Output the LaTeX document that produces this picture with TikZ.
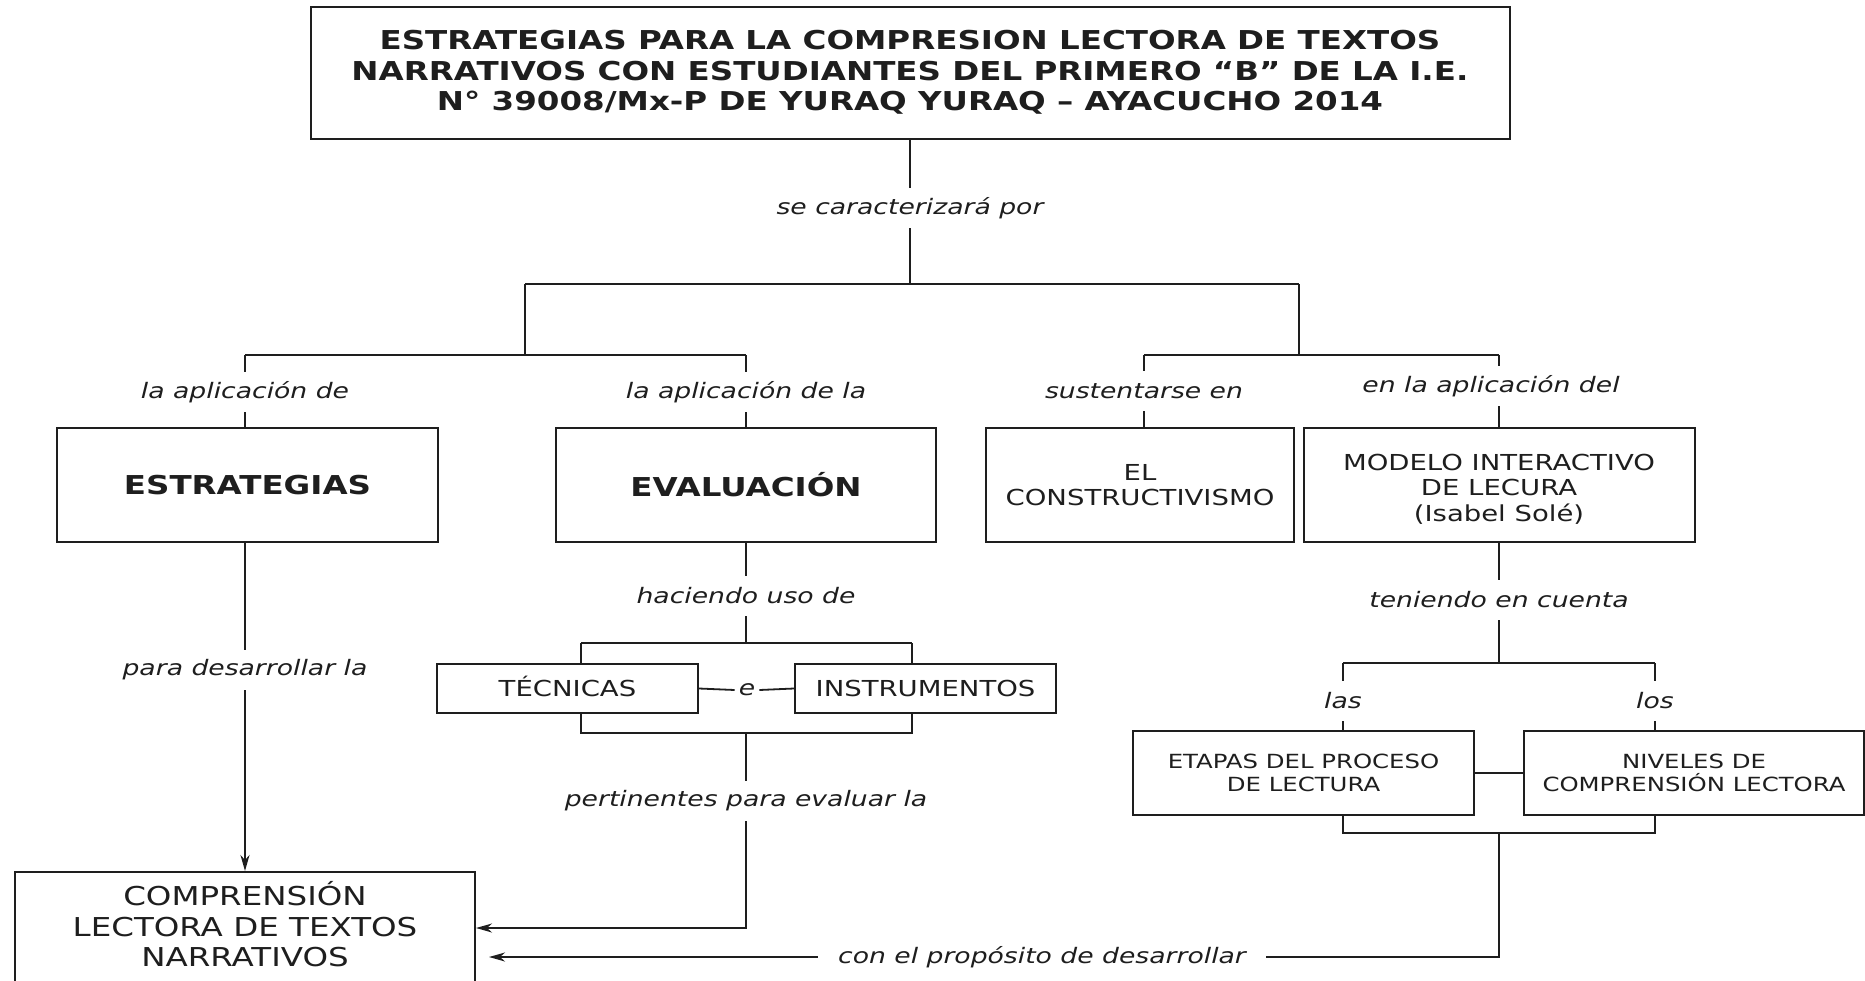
\documentclass[tikz,border=0pt]{standalone}
\usepackage{fontspec}
\setmainfont[FakeStretch=1.25]{DejaVu Sans}
\usetikzlibrary{arrows.meta}
\definecolor{ink}{HTML}{1E1E1E}
\begin{document}
\begin{tikzpicture}[x=1pt,y=-1pt,
  box/.style={draw=ink, line width=2pt, align=center, inner sep=0pt, text=ink},
  lbl/.style={font=\fontsize{21.3}{25}\selectfont\itshape, inner xsep=17pt, inner ysep=0pt, minimum height=40pt, text=ink},
  con/.style={draw=ink, line width=1.8pt},
  arr/.style={con, -{Stealth[length=16pt,width=9pt,inset=5pt]}},
  bigb/.style={font=\fontsize{26}{30.5}\selectfont\bfseries},
  big/.style={font=\fontsize{26}{30.5}\selectfont},
  mid/.style={font=\fontsize{22}{25.5}\selectfont},
  sml/.style={font=\fontsize{19.5}{22.7}\selectfont},
]
\path[use as bounding box, fill=white] (0,0) rectangle (1865,980);

% title
\node[box, bigb, minimum width=1199pt, minimum height=132pt] (title) at (910,73)
  {ESTRATEGIAS PARA LA COMPRESION LECTORA DE TEXTOS\\NARRATIVOS CON ESTUDIANTES DEL PRIMERO “B” DE LA I.E.\\N° 39008/Mx-P DE YURAQ YURAQ – AYACUCHO 2014\rule[-5pt]{0pt}{0pt}};
\node[lbl] (l0) at (910,208) {se caracterizará por};
\coordinate (t1) at (910,284);
\coordinate (bL) at (525,284);
\coordinate (bR) at (1299,284);
\coordinate (bL2) at (525,355);
\coordinate (bR2) at (1299,355);
\coordinate (a1) at (245,355);
\coordinate (a2) at (746,355);
\coordinate (a3) at (1144,355);
\coordinate (a4) at (1499,355);
\draw[con] (title.south) -- (l0.north);
\draw[con] (l0.south) -- (t1);
\draw[con] (bL) -- (bR);
\draw[con] (bL) -- (bL2);
\draw[con] (bR) -- (bR2);
\draw[con] (a1) -- (a2);
\draw[con] (a3) -- (a4);

% first row labels
\node[lbl] (l1) at (245,392) {la aplicación de};
\node[lbl] (l2) at (746,392) {la aplicación de la};
\node[lbl] (l3) at (1144,391) {sustentarse en};
\node[lbl] (l4) at (1491,386) {en la aplicación del};

% first row boxes
\node[box, bigb, minimum width=381pt, minimum height=114pt] (estr) at (247.5,485) {ESTRATEGIAS};
\node[box, bigb, minimum width=380pt, minimum height=114pt] (eval) at (746,485) {EVALUACIÓN};
\node[box, mid, minimum width=308pt, minimum height=114pt] (cons) at (1140,485) {EL\\CONSTRUCTIVISMO};
\node[box, mid, minimum width=391pt, minimum height=114pt] (mod) at (1499,485) {\rule{0pt}{24pt}MODELO INTERACTIVO\\DE LECURA\\(Isabel Solé)};

\draw[con] (a1) -- (l1.north);
\draw[con] (l1.south) -- (l1.south |- estr.north);
\draw[con] (a2) -- (l2.north);
\draw[con] (l2.south) -- (eval.north);
\draw[con] (a3) -- (l3.north);
\draw[con] (l3.south) -- (l3.south |- cons.north);
\draw[con] (a4) -- (a4 |- l4.north);
\draw[con] (a4 |- l4.south) -- (mod.north);

% left column
\node[lbl] (l5) at (245,670) {para desarrollar la};
\node[box, big, minimum width=460pt, minimum height=112pt] (compr) at (245,928) {COMPRENSIÓN\\LECTORA DE TEXTOS\\NARRATIVOS\rule[-8pt]{0pt}{0pt}};
\draw[con] (l5.north |- estr.south) -- (l5.north);
\draw[arr] (l5.south) -- (compr.north);

% evaluation column
\node[lbl] (l6) at (746,596) {haciendo uso de};
\draw[con] (eval.south) -- (l6.north);
\coordinate (c1) at (746,643);
\coordinate (c1L) at (581,643);
\coordinate (c1R) at (912,643);
\draw[con] (l6.south) -- (c1);
\draw[con] (c1L) -- (c1R);
\node[box, mid, minimum width=261pt, minimum height=49pt] (tec) at (567.5,688.5) {T\smash{É}CNICAS};
\node[box, mid, minimum width=261pt, minimum height=49pt] (ins) at (925.5,688.5) {INSTRUMENTOS};
\draw[con] (c1L) -- (c1L |- tec.north);
\draw[con] (c1R) -- (c1R |- ins.north);
\node[font=\fontsize{21.3}{25}\selectfont\itshape, inner xsep=4pt, inner ysep=0pt, text=ink] (e) at (747,690) {e};
\draw[con] (tec.east) -- (e.west);
\draw[con] (e.east) -- (ins.west);
\coordinate (c2) at (746,733);
\coordinate (c2L) at (581,733);
\coordinate (c2R) at (912,733);
\draw[con] (c1L |- tec.south) -- (c2L) -- (c2R) -- (c1R |- ins.south);
\node[lbl] (l7) at (746,801) {pertinentes para evaluar la};
\draw[con] (c2) -- (l7.north);
\draw[arr] (l7.south) |- (compr.east);

% right column
\node[lbl] (l8) at (1499,600) {teniendo en cuenta};
\draw[con] (mod.south) -- (l8.north);
\coordinate (d1) at (1499,663);
\coordinate (d1L) at (1343,663);
\coordinate (d1R) at (1655,663);
\draw[con] (l8.south) -- (d1);
\draw[con] (d1L) -- (d1R);
\node[lbl] (las) at (1343,701) {las};
\node[lbl] (los) at (1655,701) {los};
\draw[con] (d1L) -- (las.north);
\draw[con] (d1R) -- (los.north);
\node[box, sml, minimum width=341pt, minimum height=84pt] (etp) at (1303.5,773) {ETAPAS DEL PROCESO\\DE LECTURA};
\node[box, sml, minimum width=340pt, minimum height=84pt] (niv) at (1694,773) {NIVELES DE\\COMPRENSIÓN LECTORA};
\draw[con] (las.south) -- (las.south |- etp.north);
\draw[con] (los.south) -- (los.south |- niv.north);
\draw[con] (etp.east) -- (niv.west);
\coordinate (d2) at (1499,833);
\coordinate (d2L) at (1343,833);
\coordinate (d2R) at (1655,833);
\draw[con] (d1L |- etp.south) -- (d2L) -- (d2R) -- (d1R |- niv.south);
\node[lbl, inner xsep=20pt] (l9) at (1042,957) {con el propósito de desarrollar};
\draw[con] (d2) |- (l9.east);
\coordinate (tip) at (489,957);
\draw[arr] (l9.west) -- (tip);
\end{tikzpicture}
\end{document}
